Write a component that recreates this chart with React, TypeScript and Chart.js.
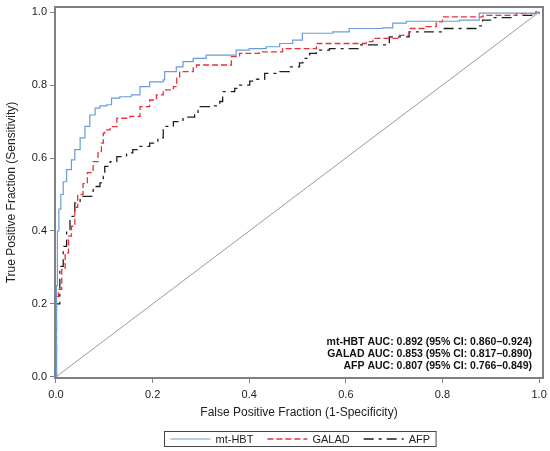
import { useEffect, useRef } from 'react';
import { Chart, registerables, Plugin } from 'chart.js';

Chart.register(...registerables);

const FONT = '"Liberation Sans", Arial, Helvetica, sans-serif';

// ROC curves (false positive fraction / true positive fraction)
const hbtFpr = [0, 0.001, 0.003, 0.006, 0.01, 0.015, 0.022, 0.032, 0.039, 0.05, 0.06, 0.07, 0.081, 0.091, 0.105, 0.115, 0.132, 0.156, 0.174, 0.194, 0.222, 0.225, 0.249, 0.263, 0.284, 0.311, 0.373, 0.4, 0.435, 0.463, 0.49, 0.51, 0.573, 0.607, 0.676, 0.697, 0.725, 0.835, 0.876, 0.993, 1.0];
const hbtTpr = [0, 0.25, 0.4, 0.46, 0.5, 0.535, 0.568, 0.595, 0.623, 0.655, 0.687, 0.718, 0.737, 0.743, 0.746, 0.764, 0.768, 0.773, 0.796, 0.809, 0.814, 0.837, 0.85, 0.864, 0.873, 0.882, 0.896, 0.9, 0.905, 0.914, 0.923, 0.942, 0.946, 0.955, 0.957, 0.97, 0.975, 0.978, 0.997, 1.0, 1.0];

const galadFpr = [0, 0.001, 0.005, 0.012, 0.019, 0.026, 0.032, 0.039, 0.045, 0.056, 0.065, 0.077, 0.087, 0.094, 0.098, 0.101, 0.112, 0.126, 0.153, 0.174, 0.194, 0.208, 0.222, 0.243, 0.25, 0.256, 0.284, 0.291, 0.353, 0.363, 0.38, 0.421, 0.469, 0.539, 0.642, 0.656, 0.711, 0.731, 0.766, 0.787, 0.8, 0.884, 0.953, 1.0];
const galadTpr = [0, 0.22, 0.24, 0.294, 0.34, 0.386, 0.413, 0.465, 0.5, 0.53, 0.56, 0.59, 0.614, 0.641, 0.668, 0.677, 0.686, 0.709, 0.714, 0.741, 0.759, 0.773, 0.787, 0.796, 0.819, 0.837, 0.85, 0.855, 0.855, 0.878, 0.887, 0.891, 0.9, 0.914, 0.919, 0.928, 0.936, 0.955, 0.96, 0.973, 0.987, 0.991, 0.996, 1.0];

const afpFpr = [0, 0.001, 0.008, 0.015, 0.022, 0.029, 0.039, 0.05, 0.074, 0.077, 0.091, 0.098, 0.101, 0.112, 0.126, 0.146, 0.159, 0.174, 0.194, 0.211, 0.222, 0.243, 0.263, 0.287, 0.294, 0.318, 0.339, 0.345, 0.37, 0.38, 0.401, 0.415, 0.432, 0.463, 0.483, 0.504, 0.511, 0.525, 0.539, 0.566, 0.628, 0.69, 0.731, 0.8, 0.869, 0.883, 0.904, 0.944, 0.993, 1.0];
const afpTpr = [0, 0.2, 0.303, 0.358, 0.404, 0.44, 0.477, 0.495, 0.497, 0.522, 0.532, 0.55, 0.577, 0.59, 0.604, 0.614, 0.623, 0.632, 0.641, 0.655, 0.687, 0.7, 0.712, 0.718, 0.741, 0.743, 0.755, 0.782, 0.791, 0.8, 0.811, 0.816, 0.832, 0.837, 0.85, 0.861, 0.873, 0.887, 0.896, 0.9, 0.91, 0.932, 0.946, 0.955, 0.962, 0.978, 0.985, 0.991, 1.0, 1.0];

const chanceLine = [0, 1];

const seriesNames = ['mt-HBT', 'GALAD', 'AFP'];
const xTicks = [0, 0.2, 0.4, 0.6, 0.8, 1.0];
const yTicks = [0, 0.2, 0.4, 0.6, 0.8, 1.0];
const aucLines = [
  'mt-HBT AUC: 0.892 (95% CI: 0.860–0.924)',
  'GALAD AUC: 0.853 (95% CI: 0.817–0.890)',
  'AFP AUC: 0.807 (95% CI: 0.766–0.849)',
];

const toPoints = (xs: number[], ys: number[]) => xs.map((x, i) => ({ x, y: ys[i] }));

// box round the plot area
const framePlugin: Plugin<'line'> = {
  id: 'frame',
  afterDatasetsDraw(chart) {
    const { ctx, chartArea } = chart;
    ctx.save();
    ctx.strokeStyle = '#808080';
    ctx.lineWidth = 2;
    ctx.strokeRect(chartArea.left, chartArea.top, chartArea.right - chartArea.left, chartArea.bottom - chartArea.top);
    ctx.restore();
  },
};

const aucPlugin: Plugin<'line'> = {
  id: 'aucText',
  afterDraw(chart) {
    const ctx = chart.ctx;
    ctx.save();
    ctx.font = `bold 10.5px ${FONT}`;
    ctx.fillStyle = '#111';
    ctx.textAlign = 'right';
    ctx.textBaseline = 'middle';
    aucLines.forEach((t, i) => ctx.fillText(t, 532, 342.5 + i * 12));
    ctx.restore();
  },
};

const legendPlugin: Plugin<'line'> = {
  id: 'boxLegend',
  afterDraw(chart) {
    const ctx = chart.ctx;
    const items = chart.data.datasets.filter((d) => d.label);
    ctx.save();
    ctx.font = `11px ${FONT}`;
    const sample = 40;
    const gapText = 5;
    const gapItem = 14;
    const pad = 6;
    const widths = items.map((d) => sample + gapText + ctx.measureText(d.label as string).width);
    const total = widths.reduce((a, b) => a + b, 0) + gapItem * (items.length - 1) + pad * 2;
    const left = Math.round(300 - total / 2) + 0.5;
    const top = 431.5;
    const h = 15;
    ctx.strokeStyle = '#444';
    ctx.lineWidth = 1;
    ctx.strokeRect(left, top, total, h);
    const cy = top + h / 2;
    let x = left + pad;
    items.forEach((d: any, i) => {
      ctx.beginPath();
      ctx.setLineDash(d.borderDash || []);
      ctx.strokeStyle = d.borderColor;
      ctx.lineWidth = d.borderWidth;
      ctx.moveTo(x, cy);
      ctx.lineTo(x + sample, cy);
      ctx.stroke();
      ctx.setLineDash([]);
      ctx.fillStyle = '#222';
      ctx.textBaseline = 'middle';
      ctx.fillText(d.label, x + sample + gapText, cy + 0.5);
      x += widths[i] + gapItem;
    });
    ctx.restore();
  },
};

const RocChart = () => {
  const chartRef = useRef<HTMLCanvasElement>(null);
  const chartInstance = useRef<Chart<'line'>>();

  useEffect(() => {
    if (chartInstance.current) {
      chartInstance.current.destroy();
    }
    const ctx = chartRef.current?.getContext('2d');
    if (!ctx) return;

    chartInstance.current = new Chart(ctx, {
      type: 'line',
      data: {
        datasets: [
          {
            label: seriesNames[0],
            data: toPoints(hbtFpr, hbtTpr),
            borderColor: '#6b9bd9',
            borderWidth: 1.2,
            stepped: 'before',
            pointRadius: 0,
          },
          {
            label: seriesNames[1],
            data: toPoints(galadFpr, galadTpr),
            borderColor: '#e8303a',
            borderWidth: 1.3,
            borderDash: [6, 3],
            stepped: 'before',
            pointRadius: 0,
          },
          {
            label: seriesNames[2],
            data: toPoints(afpFpr, afpTpr),
            borderColor: '#1e1e1e',
            borderWidth: 1.3,
            borderDash: [10, 5, 3, 5],
            stepped: 'before',
            pointRadius: 0,
          },
          {
            label: '',
            data: toPoints(chanceLine, chanceLine),
            borderColor: '#9a9a9a',
            borderWidth: 1,
            pointRadius: 0,
          },
        ],
      },
      options: {
        animation: false,
        responsive: true,
        maintainAspectRatio: false,
        layout: { padding: { left: 0, right: 7, top: 7, bottom: 29 } },
        plugins: {
          legend: { display: false },
          tooltip: { enabled: false },
        },
        scales: {
          x: {
            type: 'linear',
            min: -0.002,
            max: 1.008,
            afterBuildTicks: (scale) => {
              scale.ticks = xTicks.map((value) => ({ value }));
            },
            afterFit: (scale) => {
              scale.height = 44;
              scale.paddingLeft = 0;
              scale.paddingRight = 0;
            },
            border: { display: false },
            grid: { drawOnChartArea: false, tickLength: 5, color: '#808080' },
            ticks: {
              padding: 5,
              maxRotation: 0,
              color: '#222',
              font: { family: FONT, size: 11 },
              callback: (v) => Number(v).toFixed(1),
            },
            title: {
              display: true,
              text: 'False Positive Fraction (1-Specificity)',
              color: '#222',
              font: { family: FONT, size: 12 },
              padding: { top: 4, bottom: 2 },
            },
          },
          y: {
            type: 'linear',
            min: -0.003,
            max: 1.014,
            afterBuildTicks: (scale) => {
              scale.ticks = yTicks.map((value) => ({ value }));
            },
            afterFit: (scale) => {
              scale.width = 55;
              scale.paddingTop = 0;
              scale.paddingBottom = 0;
            },
            border: { display: false },
            grid: { drawOnChartArea: false, tickLength: 5, color: '#808080' },
            ticks: {
              padding: 3,
              color: '#222',
              font: { family: FONT, size: 11 },
              callback: (v) => Number(v).toFixed(1),
            },
            title: {
              display: true,
              text: 'True Positive Fraction (Sensitivity)',
              color: '#222',
              font: { family: FONT, size: 12 },
              padding: { top: 4, bottom: 4 },
            },
          },
        },
      },
      plugins: [framePlugin, aucPlugin, legendPlugin],
    });

    return () => {
      if (chartInstance.current) {
        chartInstance.current.destroy();
      }
    };
  }, []);

  return (
    <div style={{ position: 'absolute', left: 0, top: 0, width: 550, height: 451, background: '#fff' }}>
      <canvas ref={chartRef} />
    </div>
  );
};

export default function App() {
  return <RocChart />;
}
